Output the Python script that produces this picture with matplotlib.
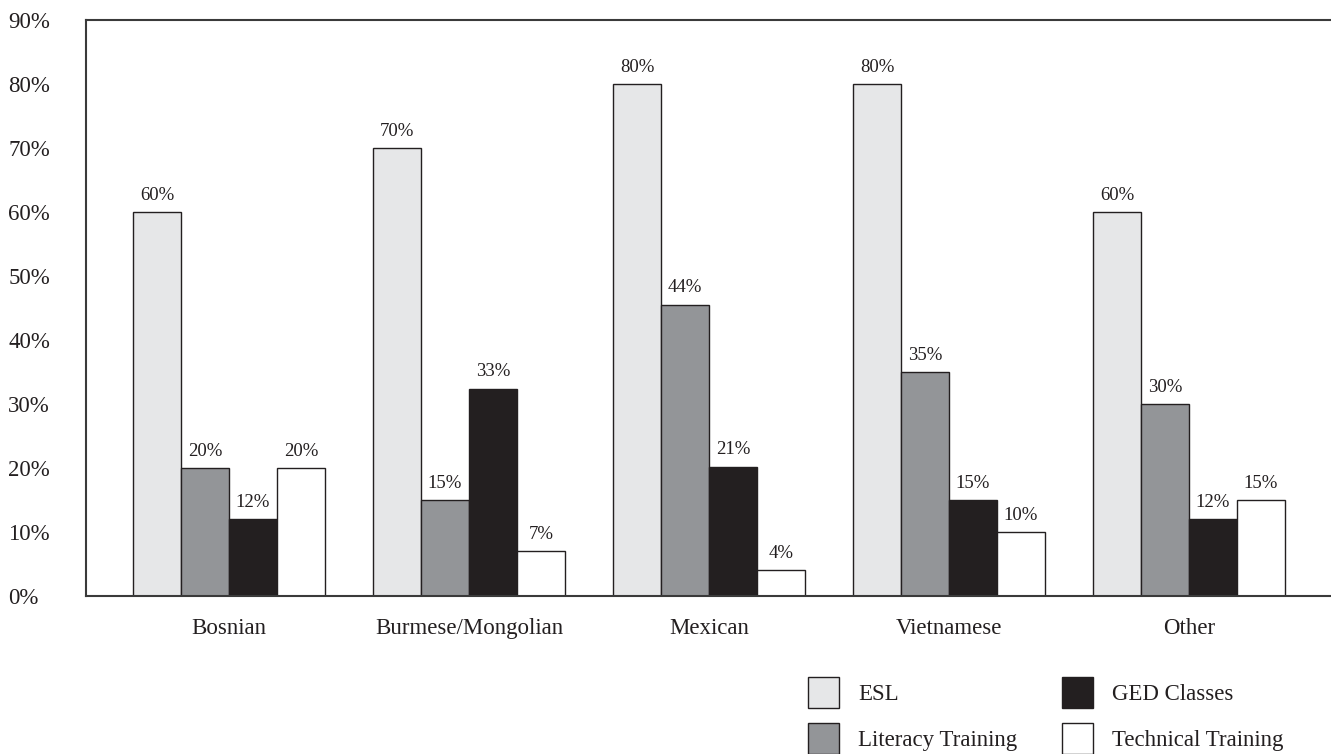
import numpy as np
import matplotlib
matplotlib.use('Agg')
import matplotlib.pyplot as plt

plt.rcParams['font.family'] = ['Liberation Serif', 'DejaVu Serif']
plt.rcParams['text.color'] = '#231f20'

# data
groups = ['Bosnian', 'Burmese/Mongolian', 'Mexican', 'Vietnamese', 'Other']
series = ['ESL', 'Literacy Training', 'GED Classes', 'Technical Training']
esl = [60, 70, 80, 80, 60]
literacy = [20, 15, 45.5, 35, 30]
ged = [12, 32.4, 20.2, 15, 12]
technical = [20, 7, 4, 10, 15]
# printed labels (bars in the source are not always drawn to scale)
esl_lbl = ['60%', '70%', '80%', '80%', '60%']
literacy_lbl = ['20%', '15%', '44%', '35%', '30%']
ged_lbl = ['12%', '33%', '21%', '15%', '12%']
technical_lbl = ['20%', '7%', '4%', '10%', '15%']
yticks = [0, 10, 20, 30, 40, 50, 60, 70, 80, 90]

colors = ['#e6e7e8', '#939598', '#231f20', '#ffffff']
dark = '#231f20'

fig = plt.figure(figsize=(13.31, 7.54), dpi=100)
ax = fig.add_axes([86 / 1331, 1 - 596 / 754, 1 - 86 / 1331, (596 - 20) / 754])

x = np.arange(len(groups))
w = 0.2
values = [esl, literacy, ged, technical]
labels = [esl_lbl, literacy_lbl, ged_lbl, technical_lbl]
handles = []
for k, (vals, lbls) in enumerate(zip(values, labels)):
    xs = x + (k - 1.5) * w
    bars = ax.bar(xs, vals, width=w, color=colors[k], edgecolor=dark,
                  linewidth=1.0, label=series[k], zorder=2)
    handles.append(bars)
    for xi, v, t in zip(xs, vals, lbls):
        ax.annotate(t, (xi, v), xytext=(0, 6), textcoords='offset points',
                    ha='center', va='bottom', fontsize=13.5)

ax.set_xlim(-0.596, 4.592)
ax.set_ylim(0, 90)
ax.set_yticks(yticks)
ax.set_yticklabels([f'{v}%' for v in yticks])
ax.set_xticks(x)
ax.set_xticklabels(groups)
ax.tick_params(axis='y', length=0, pad=56, labelsize=16.5, labelcolor=dark)
ax.tick_params(axis='x', length=0, pad=16, labelsize=16.5, labelcolor=dark)
for lab in ax.get_yticklabels():
    lab.set_horizontalalignment('left')

ax.spines['right'].set_visible(False)
for s in ['left', 'top', 'bottom']:
    ax.spines[s].set_color('#3a3a3a')
    ax.spines[s].set_linewidth(1.5)

fig.legend(handles=handles, labels=series, ncol=2, frameon=False,
           loc='upper left', bbox_to_anchor=(808 / 1331, 1 - 677 / 754),
           borderpad=0, borderaxespad=0, fontsize=16.5,
           handlelength=1.35, handleheight=1.72, handletextpad=0.83,
           labelspacing=0.65, columnspacing=1.95)

fig.savefig('out.png', dpi=100)
